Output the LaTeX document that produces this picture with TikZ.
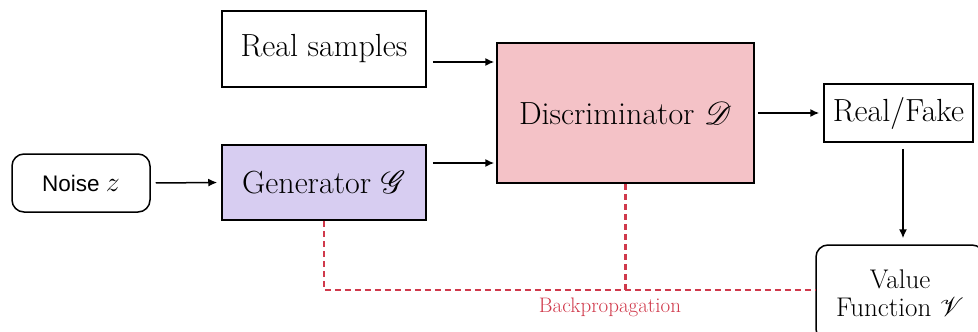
\RequirePackage{fix-cm}
\documentclass[tikz,border=0pt]{standalone}
\usepackage{fontspec}
\usepackage{mathrsfs}
\DeclareFontFamily{U}{rsfs}{\skewchar\font127 }
\DeclareFontShape{U}{rsfs}{m}{n}{<-6> rsfs5 <6-8> rsfs7 <8-> rsfs10}{}
\usetikzlibrary{arrows.meta}
\newfontfamily\noisefont{Liberation Sans}
\definecolor{genfill}{HTML}{D7CDF1}
\definecolor{discfill}{HTML}{F4C2C7}
\definecolor{bpred}{HTML}{D0394B}
\tikzset{
  block/.style={draw=black, line width=1.5pt, inner sep=0pt, align=center,
    font=\fontsize{32}{36}\selectfont},
  roundblock/.style={block, rounded corners=12pt},
  arr/.style={-{Latex[length=9pt,width=8pt]}, line width=1.5pt},
  bp/.style={draw=bpred, line width=2.4pt, dash pattern=on 6pt off 4pt},
}
\begin{document}
\begin{tikzpicture}[x=1pt, y=-1pt]
  \useasboundingbox (0,0) rectangle (978,332);
  \clip (0,0) rectangle (978,332);

  % blocks
  \node[roundblock, minimum width=138pt, minimum height=58pt,
        font=\noisefont\fontsize{22.5}{26}\selectfont] (noise) at (81,183) {Noise \fontsize{28}{28}\selectfont$z$};
  \node[block, fill=genfill, minimum width=204pt, minimum height=75pt] (gen) at (324,182.5) {Generator $\mathscr{G}$};
  \node[block, minimum width=204pt, minimum height=76pt] (real) at (324,49) {Real samples};
  \node[block, fill=discfill, minimum width=257pt, minimum height=140pt] (disc) at (625.5,113) {Discriminator $\mathscr{D}$};
  \node[block, minimum width=149pt, minimum height=58pt] (rf) at (898.5,113) {Real/Fake};
  \node[roundblock, minimum width=168pt, minimum height=96pt,
        font=\fontsize{27}{28}\selectfont] (val) at (900,293) {Value\\Function $\mathscr{V}$};

  % forward connections
  \draw[arr, shorten <=5pt, shorten >=4pt] (noise.east) -- (gen.west);
  \coordinate (rs) at ([yshift=-13pt]real.east);
  \draw[arr, shorten <=6pt, shorten >=2pt] (rs) -- (rs -| disc.west);
  \coordinate (gs) at ([yshift=19.5pt]gen.east);
  \draw[arr, shorten <=6pt, shorten >=2pt] (gs) -- (gs -| disc.west);
  \draw[arr, shorten <=3pt, shorten >=4pt] (disc.east) -- (rf.west);
  \coordinate (rv) at ([xshift=4.5pt]rf.south);
  \draw[arr, shorten <=6pt, shorten >=6pt] (rv) -- (rv |- val.north);

  % backpropagation path
  \coordinate (bus) at (0,290);
  \draw[bp] (gen.south) |- (bus -| val.west);
  \draw[bp] (disc.south) -- (disc.south |- bus);
  \node[text=bpred, font=\fontsize{21}{24}\selectfont] (bplabel) at (610,307) {Backpropagation};
\end{tikzpicture}
\end{document}
